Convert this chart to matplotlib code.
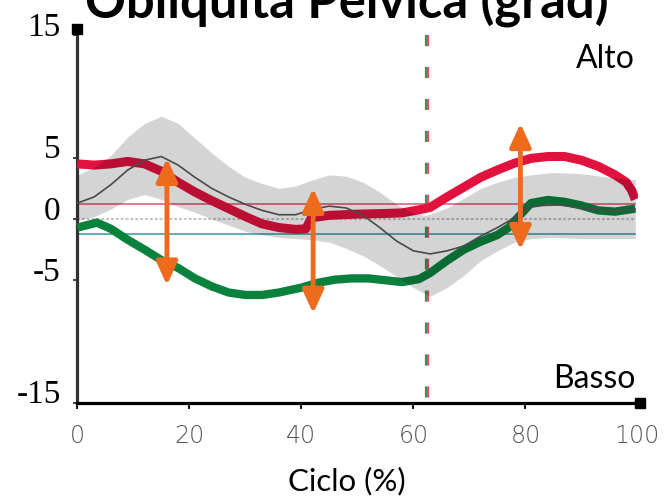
import matplotlib.pyplot as plt
from matplotlib.patches import FancyArrowPatch
from matplotlib.transforms import ScaledTranslation

plt.rcParams['lines.scale_dashes'] = False

# curva rossa (lato destro)
red_x = [0, 3, 6, 9, 12, 15, 18, 21, 24, 27, 30, 33, 36, 39, 40.8, 41.8, 45, 50, 55, 58,
         61, 63, 66, 69, 72, 75, 78, 81, 84, 87, 90, 93, 96, 98, 99, 99.6]
red_y = [4.5, 4.4, 4.5, 4.7, 4.5, 3.9, 3.0, 2.2, 1.5, 0.85, 0.2, -0.4, -0.7, -0.85, -0.8, 0.1, 0.3, 0.4, 0.45, 0.5,
         0.75, 0.95, 1.8, 2.6, 3.4, 4.0, 4.55, 4.95, 5.1, 5.1, 4.8, 4.3, 3.6, 3.0, 2.3, 1.6]

# curva verde (lato sinistro)
green_x = [0, 3.5, 6, 9, 12, 15, 18, 21, 24, 27, 30, 33, 36, 40, 43, 46, 49, 52, 55, 58,
           61, 63, 66, 69, 72, 75, 77, 79, 81, 84, 87, 90, 93, 96, 99.6]
green_y = [-0.7, -0.3, -0.8, -1.7, -2.5, -3.35, -4.0, -4.85, -5.5, -6.0, -6.2, -6.2, -6.0, -5.6, -5.2, -4.95, -4.85, -4.85, -5.0, -5.15,
           -4.9, -4.4, -3.4, -2.5, -1.85, -1.3, -0.7, 0.3, 1.3, 1.55, 1.4, 1.1, 0.7, 0.6, 0.85]

# media normativa
mean_x = [0, 3, 6, 9, 12, 15, 18, 21, 24, 27, 30, 33, 36, 39, 42, 45, 48, 51, 54, 57,
          60, 63, 66, 69, 72, 75, 78, 80, 83, 86, 90, 95, 99.6]
mean_y = [1.3, 1.8, 2.8, 4.0, 4.8, 5.1, 4.4, 3.4, 2.5, 1.8, 1.2, 0.7, 0.35, 0.35, 0.8, 1.05, 0.9, 0.3, -0.7, -1.8,
          -2.6, -2.85, -2.6, -2.2, -1.4, -0.7, 0.1, 0.9, 1.1, 1.15, 0.9, 0.7, 0.8]

# fascia normativa (+/- 1 DS)
band_x = [0, 3, 6, 9, 12, 15, 18, 21, 24, 27, 30, 33, 36, 39, 42, 45, 48, 51, 54, 57,
          60, 62, 63, 66, 69, 72, 75, 78, 81, 85, 90, 95, 99.6]
band_hi = [3.6, 4.2, 5.2, 6.7, 7.8, 8.4, 7.8, 6.6, 5.4, 4.3, 3.4, 2.9, 2.5, 2.7, 3.2, 3.6, 3.5, 3.0, 2.2, 1.2,
           0.5, 0.3, 0.4, 0.9, 1.7, 2.5, 3.0, 3.4, 3.6, 3.8, 3.7, 3.4, 3.2]
band_lo = [-0.1, 0.2, 0.8, 1.6, 2.0, 1.6, 1.0, 0.55, 0.0, -0.5, -1.0, -1.3, -1.5, -1.6, -1.7, -1.9, -2.4, -3.0, -3.8, -4.7,
           -5.6, -6.1, -6.3, -5.6, -4.6, -3.4, -2.6, -1.9, -1.6, -1.5, -1.6, -1.6, -1.6]

ref_red = 1.2      # linea orizzontale rosa
ref_green = -1.2   # linea orizzontale azzurra
toe_off = 62.4     # stacco piede

# frecce: x, y inizio, y fine
arrow_x = [16, 42.1, 79.1]
arrow_top = [4.95, 2.5, 7.8]
arrow_bot = [-5.4, -7.7, -2.5]

xticks = [0, 20, 40, 60, 80, 100]
yticks = [15, 5, 0, -5, -15]

fig = plt.figure(figsize=(6.64, 4.97), dpi=100)
ax = fig.add_axes([77.3 / 664, (497 - 402.75) / 497, 560.2 / 664, 367.5 / 497])
ax.set_xlim(0, 100)
ax.set_ylim(-15, 15)

ax.plot([0, 99.6], [ref_red, ref_red], color='#E2607C', lw=1.2, zorder=2)
ax.plot([0, 99.6], [ref_green, ref_green], color='#45A2A6', lw=1.2, zorder=2)
ax.plot([0, 99.6], [0, 0], color='#c4c4c4', lw=1.5, ls=(0, (2, 1.5)), zorder=2)

ax.plot([toe_off - 0.2, toe_off - 0.2], [15, -15], color='#2E9A5A', lw=1.6,
        ls=(0, (8, 15)), zorder=2.5, clip_on=False)
ax.plot([toe_off + 0.25, toe_off + 0.25], [15, -15], color='#E0506A', lw=1.6,
        ls=(0, (8, 15)), zorder=2.5, clip_on=False)

ax.plot(green_x, green_y, color='#0A823E', lw=6, solid_capstyle='butt', zorder=3)
ax.plot(red_x, red_y, color='#E1123E', lw=6.5, solid_capstyle='butt', zorder=3)
ax.plot(mean_x, mean_y, color='#5a5a5a', lw=1.2, zorder=4)

# fascia grigia sovrapposta (effetto moltiplica)
ax.fill_between(band_x, band_lo, band_hi, color='black', alpha=0.17, lw=0, zorder=5)

for x, y0, y1 in zip(arrow_x, arrow_top, arrow_bot):
    arr = FancyArrowPatch((x, y1), (x, y0), arrowstyle='<|-|>,head_length=0.7,head_width=0.32',
                          mutation_scale=20, color='#EE6A1C', lw=3.5, shrinkA=0, shrinkB=0,
                          zorder=6)
    ax.add_patch(arr)

for s in ['top', 'right']:
    ax.spines[s].set_visible(False)
ax.spines['left'].set_color('#333333')
ax.spines['left'].set_linewidth(2.3)
ax.spines['bottom'].set_color('black')
ax.spines['bottom'].set_linewidth(2.3)

ax.plot([0], [15.5], marker='s', ms=6.5, color='black', clip_on=False, zorder=7)
ax.plot([100.5], [-15], marker='s', ms=7, color='black', clip_on=False, zorder=7)

ax.set_xticks(xticks)
ax.set_yticks(yticks)
ax.set_yticklabels([str(v) for v in yticks])
ax.tick_params(axis='x', direction='out', length=4, width=1.3, color='black',
               labelsize=17, labelcolor='#555555', pad=11)
ax.tick_params(axis='y', direction='out', length=3, width=1.3, color='#333333',
               labelsize=24, pad=9)
for lab in ax.get_xticklabels():
    lab.set_fontfamily('DejaVu Sans')
    lab.set_fontweight('light')
for lab in ax.get_yticklabels():
    lab.set_fontfamily('Liberation Serif')
    lab.set_transform(lab.get_transform() + ScaledTranslation(0, 8 / 72, fig.dpi_scale_trans))

fig.text(85 / 664, 1 - 18 / 497, 'Obliquità Pelvica (grad)', fontsize=36.5, fontweight='bold',
         family='Lato', ha='left', va='baseline')
fig.text(635 / 664, 1 - 68.3 / 497, 'Alto', fontsize=23, family='Lato', ha='right', va='baseline')
fig.text(635 / 664, 1 - 388 / 497, 'Basso', fontsize=23, family='Lato', ha='right', va='baseline')
fig.text(346.5 / 664, 1 - 490 / 497, 'Ciclo (%)', fontsize=22.5, family='Lato', ha='center', va='baseline')

fig.savefig('out.png', dpi=100)
